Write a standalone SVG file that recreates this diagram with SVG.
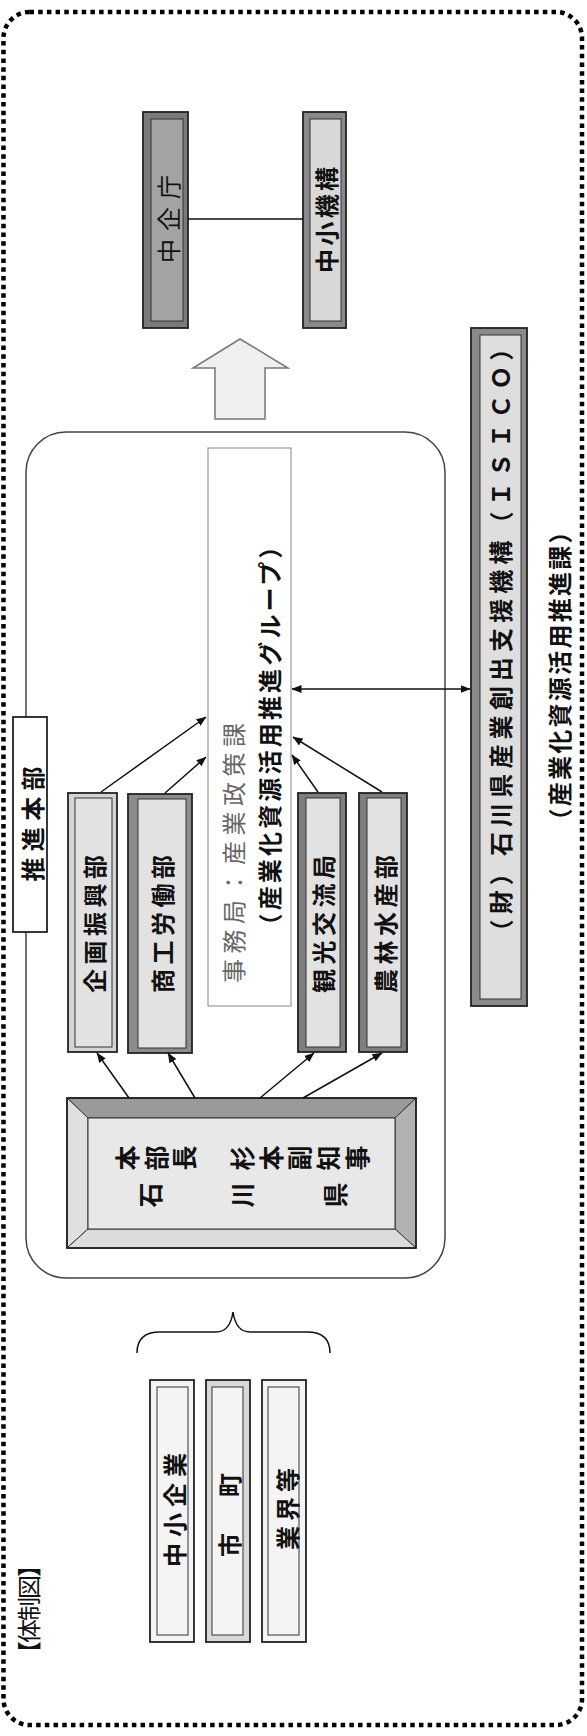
<svg xmlns="http://www.w3.org/2000/svg" width="587" height="1736" viewBox="0 0 587 1736">
<style>
text{font-family:"Noto Sans CJK JP","Noto Sans",sans-serif;fill:#111;}
.h{font-size:24px;font-weight:bold;text-anchor:middle;dominant-baseline:central;}
.n{font-weight:normal;}
.lite{fill:#666;font-weight:normal;}
.vt{font-size:25px;font-weight:bold;}
.ln{stroke:#111;stroke-width:1.5;fill:none;}
.arr{stroke:#111;stroke-width:1.5;fill:none;marker-end:url(#ah);}
.bo{stroke:#222;stroke-width:1.8;}
.bi{stroke:#333;stroke-width:1;}
</style>
<defs>
<marker id="ah" viewBox="0 0 10 10" refX="9.5" refY="5" markerWidth="10" markerHeight="10" markerUnits="userSpaceOnUse" orient="auto-start-reverse">
<path d="M0,1 L10,5 L0,9z" fill="#111"/>
</marker>
</defs>
<rect width="587" height="1736" fill="#fff"/>
<!-- outer dotted frame -->
<rect x="3.5" y="12" width="578.5" height="1713" rx="26" fill="none" stroke="#000" stroke-width="4.5" stroke-dasharray="4.5 4.2"/>

<!-- group frame 推進本部 -->
<g id="honbu-frame">
<rect x="26" y="432" width="419" height="846" rx="40" fill="none" stroke="#444" stroke-width="1.5"/>
<rect x="13" y="717" width="34" height="215" fill="#fff" stroke="#222" stroke-width="1.8"/>
<text class="h" transform="translate(31,824) rotate(-90)" textLength="115">推進本部</text>
</g>

<g id="title">
<text class="h n" font-size="21" transform="translate(27,1609) rotate(-90)" textLength="112">【体制図】</text>
</g>

<g id="chukicho">
<rect class="bo" x="143" y="112" width="45" height="216" fill="#7a7a7a"/>
<rect class="bi" x="151" y="119" width="32" height="202" fill="#a3a3a3"/>
<text class="h n" transform="translate(167,219) rotate(-90)" textLength="88">中企庁</text>
</g>

<g id="chusho-kiko">
<rect class="bo" x="303" y="112" width="43" height="216" fill="#8a8a8a"/>
<rect class="bi" x="310" y="119" width="31" height="202" fill="#d8d8d8"/>
<text class="h" transform="translate(325,220) rotate(-90)" textLength="106">中小機構</text>
</g>

<g id="block-arrow">
<polygon points="240,339 288,368 265,368 265,419 215,419 215,368 193,368" fill="#efefef" stroke="#777" stroke-width="1.5"/>
</g>

<g id="isico">
<rect class="bo" x="471" y="328" width="56" height="678" fill="#8a8a8a"/>
<rect class="bi" x="480" y="335" width="41" height="664" fill="#dedede"/>
<text class="h" transform="translate(499,640) rotate(-90)" textLength="607">（財）石川県産業創出支援機構（ＩＳＩＣＯ）</text>
</g>
<g id="isico-note">
<text class="h" transform="translate(558,676) rotate(-90)" textLength="313">（産業化資源活用推進課）</text>
</g>

<g id="jimukyoku">
<rect x="208" y="448" width="83" height="558" fill="#fff" stroke="#999" stroke-width="1.2"/>
<text class="h lite" transform="translate(232,853) rotate(-90)" textLength="260">事務局：産業政策課</text>
<text class="h" transform="translate(268,736) rotate(-90)" textLength="403">（産業化資源活用推進グループ）</text>
</g>

<g id="kikaku">
<rect class="bo" x="68" y="793" width="49" height="259" fill="#d4d4d4"/>
<rect class="bi" x="75" y="798" width="37" height="249" fill="#e2e2e2"/>
<text class="h" transform="translate(93,924) rotate(-90)" textLength="138">企画振興部</text>
</g>
<g id="shoko">
<rect class="bo" x="128" y="794" width="64" height="259" fill="#8c8c8c"/>
<rect class="bi" x="138" y="799" width="48" height="249" fill="#e2e2e2"/>
<text class="h" transform="translate(161,924) rotate(-90)" textLength="138">商工労働部</text>
</g>
<g id="kanko">
<rect class="bo" x="298" y="793" width="48" height="259" fill="#7e7e7e"/>
<rect class="bi" x="306" y="798" width="34" height="249" fill="#e2e2e2"/>
<text class="h" transform="translate(322,924) rotate(-90)" textLength="138">観光交流局</text>
</g>
<g id="norin">
<rect class="bo" x="359" y="793" width="48" height="259" fill="#7e7e7e"/>
<rect class="bi" x="367" y="798" width="34" height="249" fill="#e2e2e2"/>
<text class="h" transform="translate(384,924) rotate(-90)" textLength="138">農林水産部</text>
</g>

<g id="honbucho">
<polygon points="67,1098 416,1098 395,1118 88,1118" fill="#9a9a9a" stroke="#333" stroke-width="1"/>
<polygon points="67,1098 88,1118 88,1229 67,1248" fill="#e0e0e0" stroke="#333" stroke-width="1"/>
<polygon points="416,1098 416,1248 395,1229 395,1118" fill="#b2b2b2" stroke="#333" stroke-width="1"/>
<polygon points="67,1248 88,1229 395,1229 416,1248" fill="#dcdcdc" stroke="#333" stroke-width="1"/>
<rect x="88" y="1118" width="307" height="111" fill="#e8e8e8" stroke="#333" stroke-width="1"/>
<rect x="67" y="1098" width="349" height="150" fill="none" stroke="#222" stroke-width="1.8"/>
<text class="vt" x="137" y="1170.5" rotate="-90" textLength="255" lengthAdjust="spacing">本部長　杉本副知事</text>
<text class="vt" x="160" y="1207.5" rotate="-90" textLength="210" lengthAdjust="spacing">石川県</text>
</g>

<g id="chusho-kigyo">
<rect class="bo" x="150" y="1380" width="44" height="262" fill="#f4f4f4"/>
<rect class="bi" x="157" y="1387" width="31" height="248" fill="#f4f4f4"/>
<text class="h" transform="translate(173,1510) rotate(-90)" textLength="114">中小企業</text>
</g>
<g id="shicho">
<rect class="bo" x="206" y="1380" width="44" height="262" fill="#d8d8d8"/>
<rect class="bi" x="212" y="1387" width="31" height="248" fill="#f4f4f4"/>
<text class="h" transform="translate(228,1515) rotate(-90)" textLength="84">市　町</text>
</g>
<g id="gyokai">
<rect class="bo" x="262" y="1380" width="44" height="262" fill="#f4f4f4"/>
<rect class="bi" x="268" y="1387" width="31" height="248" fill="#f4f4f4"/>
<text class="h" transform="translate(286,1509) rotate(-90)" textLength="82">業界等</text>
</g>

<g id="connectors">
<line class="ln" x1="188" y1="219" x2="303" y2="219" stroke-width="2"/>
<path class="ln" d="M137,1353 Q137,1332 160,1332 L216,1332 Q230,1332 233,1312 Q236,1332 250,1332 L307,1332 Q330,1332 330,1353" stroke="#333"/>
<line class="arr" x1="129" y1="1098" x2="97" y2="1053"/>
<line class="arr" x1="195" y1="1098" x2="168" y2="1053"/>
<line class="arr" x1="260" y1="1098" x2="314" y2="1053"/>
<line class="arr" x1="303" y1="1098" x2="382" y2="1053"/>
<line class="arr" x1="101" y1="792" x2="206" y2="717"/>
<line class="arr" x1="165" y1="793" x2="206" y2="757"/>
<line class="arr" x1="318" y1="792" x2="292" y2="755"/>
<line class="arr" x1="382" y1="792" x2="293" y2="737"/>
<line class="arr" x1="292" y1="689" x2="470" y2="689" marker-start="url(#ah)"/>
</g>
</svg>
